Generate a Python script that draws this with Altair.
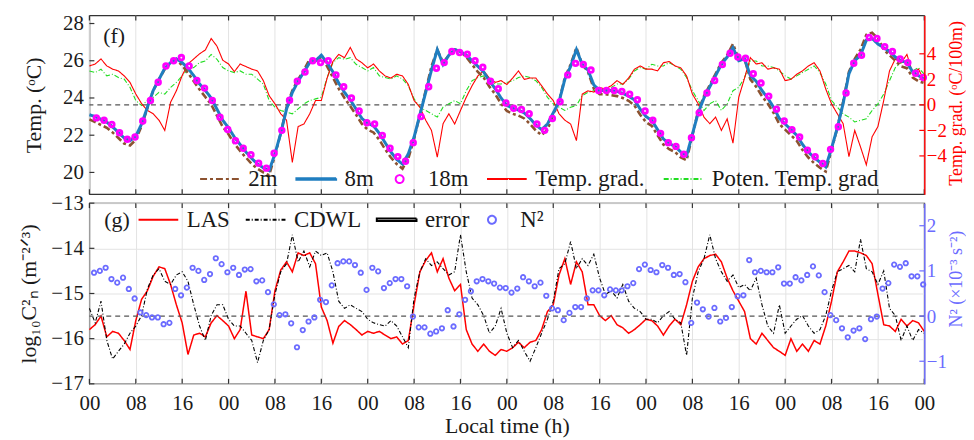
import altair as alt
import pandas as pd
import numpy as np

FONT = "Liberation Serif"

# ---------------- data ----------------
HOURS = list(range(0, 145))
TICKS = list(range(0, 145, 8))
TEMP_TICKS = [20, 22, 24, 26, 28]
GRAD_TICKS = [-4, -2, 0, 2, 4]
CN_TICKS = [-17, -16, -15, -14, -13]
N2_TICKS = [-1, 0, 1, 2]

T2M = [22.85, 22.7, 22.55, 22.4, 22.15, 21.85, 21.55, 21.45, 21.75, 22.5,
       23.45, 24.4, 25.0, 25.55, 25.85, 26.05, 25.75, 25.35, 24.9, 24.45,
       24.05, 23.65, 23.05, 22.45, 22.05, 21.55, 21.15, 20.8, 20.45, 20.2,
       20.0, 19.85, 20.9, 22.1, 23.5, 24.4, 25.0, 25.5, 26.1, 26.0,
       26.2, 25.7, 25.1, 24.5, 24.0, 23.55, 23.1, 22.6, 22.3, 22.15,
       21.75, 21.25, 20.8, 20.45, 20.2, 20.75, 21.8, 23.1, 24.4, 25.7,
       26.6, 25.9, 26.3, 26.6, 26.5, 26.2, 25.8, 25.4, 25.1, 24.6,
       24.2, 23.7, 23.3, 23.15, 23.05, 22.9, 22.6, 22.25, 22.0, 22.3,
       23.1, 23.8, 25.1, 25.8, 26.7, 25.8, 25.4, 24.5, 24.2, 24.2,
       24.15, 24.1, 24.0, 23.85, 23.6, 23.1, 22.7, 22.5, 22.0, 21.5,
       21.25, 21.1, 20.8, 20.65, 22.0, 23.3, 24.1, 24.7, 25.3, 25.9,
       26.3, 26.9, 26.1, 26.1, 25.0, 24.6, 24.1, 23.7, 23.2, 22.6,
       22.3, 22.0, 21.7, 21.2, 20.8, 20.5, 20.25, 20.05, 21.2, 22.4,
       23.8, 25.4, 26.1, 26.6, 27.4, 27.5, 27.2, 26.6, 26.3, 26.0,
       25.7, 25.6, 25.1, 24.9, 24.8]

T8M = [23.1, 23.0, 22.85, 22.7, 22.45, 22.15, 21.85, 21.7, 21.95, 22.6,
       23.5, 24.4, 25.0, 25.6, 25.9, 26.1, 25.9, 25.6, 25.2, 24.75,
       24.4, 24.0, 23.4, 22.8, 22.4, 21.9, 21.5, 21.1, 20.75, 20.45,
       20.25, 20.1, 21.0, 22.1, 23.4, 24.3, 24.9, 25.4, 25.9, 26.0,
       26.3, 25.9, 25.4, 24.8, 24.3, 23.9, 23.4, 22.9, 22.65, 22.5,
       22.1, 21.6, 21.1, 20.7, 20.45, 21.0, 21.9, 23.1, 24.3, 25.5,
       26.6, 25.8, 26.3, 26.6, 26.5, 26.3, 26.0, 25.7, 25.4, 24.9,
       24.5, 24.0, 23.6, 23.45, 23.35, 23.2, 22.9, 22.55, 22.3, 22.6,
       23.2, 23.8, 25.0, 25.7, 26.6, 25.8, 25.5, 24.7, 24.4, 24.4,
       24.4, 24.35, 24.25, 24.1, 23.9, 23.4, 23.0, 22.8, 22.3, 21.8,
       21.55, 21.4, 21.1, 20.9, 22.05, 23.2, 24.0, 24.6, 25.2, 25.8,
       26.2, 26.7, 26.0, 26.1, 25.2, 24.9, 24.4, 24.0, 23.5, 22.9,
       22.6, 22.3, 22.0, 21.5, 21.1, 20.8, 20.55, 20.3, 21.3, 22.4,
       23.7, 25.3, 26.0, 26.3, 27.1, 27.2, 26.9, 26.7, 26.5, 26.2,
       26.0, 25.9, 25.4, 25.2, 25.0]

T18M_TIME = [round(1.2 + 1.333 * k, 2) for k in range(108)]
T18M = [22.93, 22.8, 22.58, 22.13, 21.78, 21.9, 22.76, 23.86, 24.85, 25.72,
        26.0, 26.17, 25.72, 24.94, 24.53, 23.86, 22.97, 22.31, 21.7, 21.3,
        20.95, 20.5, 20.23, 21.03, 22.26, 23.88, 24.9, 25.4, 26.0, 25.9,
        26.0, 25.24, 24.6, 24.0, 23.3, 22.67, 22.6, 21.99, 21.3, 20.85,
        20.6, 21.6, 23.0, 24.6, 25.6, 25.9, 26.5, 26.44, 26.35, 26.0,
        25.65, 24.9, 24.5, 23.73, 23.45, 23.38, 23.15, 22.6, 22.26, 22.9,
        23.8, 25.24, 25.86, 25.8, 25.5, 24.4, 24.4, 24.4, 24.35, 24.2,
        23.9, 23.3, 22.8, 22.1, 21.6, 21.4, 20.98, 21.87, 23.2, 24.27,
        24.94, 25.8, 26.4, 26.2, 26.13, 25.3, 24.8, 24.1, 23.4, 22.76,
        22.3, 21.9, 21.2, 20.84, 20.48, 21.24, 22.45, 24.27, 25.87, 26.3,
        27.25, 27.2, 26.76, 26.5, 26.1, 25.9, 25.33, 25.1]

GRAD = [3.05, 3.2, 3.6, 3.05, 2.8, 2.66, 2.27, 1.76, 0.85, 0.1,
        -0.44, -0.7, -1.2, -2.0, 0.2, 1.1, 2.3, 3.2, 3.6, 4.0,
        4.3, 5.2, 4.6, 3.5, 3.2, 2.6, 3.2, 3.0, 2.8, 2.66,
        1.9, 0.72, 0.08, -0.7, -1.2, -4.5, -1.7, -1.5, -0.7, 0.34,
        0.34, 2.1, 3.4, 3.95, 3.7, 4.5, 3.6, 3.3, 2.9, 3.2,
        2.66, 2.27, 2.1, 2.4, 2.27, 1.6, 0.34, -0.18, -1.2, -2.0,
        -4.1, -1.47, -0.7, -1.5, -0.44, 0.6, 1.5, 2.27, 2.66, 2.1,
        1.76, 1.9, 1.6, 2.1, 2.66, 2.0, 2.1, 2.1, 1.5, 0.85,
        0.34, -0.7, -1.2, -1.5, -2.8, 0.85, 1.1, 1.0, 1.37, 1.24,
        1.5, 1.9, 1.6, 2.1, 2.8, 3.05, 2.8, 2.8, 2.66, 3.3,
        3.4, 3.05, 2.9, 2.27, 0.85, 0.08, -0.96, -1.47, -0.96, -2.0,
        -1.1, -3.0, 0.6, 2.1, 3.7, 3.2, 3.3, 2.8, 2.9, 2.8,
        1.9, 2.0, 2.4, 2.66, 3.05, 3.3, 2.66, 1.24, 0.08, -0.7,
        -1.47, -4.06, -2.0, -3.3, -4.7, -2.5, -1.7, 0.34, 2.66, 3.6,
        3.3, 3.95, 2.5, 2.8, 1.9]

PGRAD = [2.66, 2.53, 2.79, 2.27, 2.4, 2.14, 2.02, 1.37, 0.34, -0.05,
         0.34, 0.59, 0.98, 0.85, 1.37, 1.76, 2.27, 2.79, 2.92, 3.31,
         3.44, 3.95, 3.57, 2.92, 2.66, 2.53, 2.66, 2.4, 2.4, 2.02,
         1.63, 0.34, -0.18, -0.44, -0.57, -0.7, -0.31, 0.08, 0.34, 0.47,
         0.59, 2.14, 3.31, 3.7, 3.57, 3.7, 3.18, 2.92, 2.66, 2.92,
         2.27, 2.14, 2.02, 2.27, 2.02, 1.5, 0.47, -0.18, -0.44, -0.7,
         -0.96, -0.18, 0.08, 0.34, 0.08, 1.11, 1.89, 2.14, 2.27, 2.02,
         1.63, 1.63, 1.76, 1.89, 2.14, 2.27, 2.14, 1.89, 1.37, 0.59,
         0.08, -0.18, -0.44, -0.18, -0.05, 0.72, 0.98, 1.11, 1.24, 1.11,
         1.37, 1.63, 1.63, 2.02, 2.66, 2.92, 2.79, 3.18, 3.05, 3.05,
         3.31, 3.05, 2.79, 2.14, 1.11, 0.34, -0.44, 0.08, 0.34, -0.44,
         0.08, 1.11, 1.37, 2.14, 3.44, 3.44, 3.05, 3.05, 2.92, 2.66,
         2.27, 2.02, 2.27, 2.53, 2.79, 3.05, 2.53, 1.63, 0.34, -0.18,
         -0.7, -0.96, -1.34, -1.21, -1.09, -0.44, 0.08, 0.85, 1.89, 2.92,
         3.31, 3.44, 2.66, 2.92, 2.4]

LAS = [-15.8, -15.69, -15.5, -15.96, -15.84, -15.88, -16.04, -16.24, -15.6, -15.13,
       -14.94, -14.62, -14.41, -14.45, -14.8, -15.25, -15.65, -16.35, -15.92, -15.88,
       -15.96, -15.65, -15.49, -15.6, -15.72, -16.0, -15.8, -14.95, -15.92, -15.96,
       -16.0, -15.8, -14.94, -14.48, -14.3, -14.52, -14.1, -14.16, -14.1, -14.34,
       -15.3, -15.6, -16.1, -15.73, -15.6, -15.69, -15.8, -15.92, -15.84, -15.88,
       -15.84, -15.92, -16.0, -15.96, -16.12, -16.04, -15.25, -14.52, -14.27, -14.1,
       -14.52, -14.23, -14.66, -14.94, -14.8, -15.8, -16.12, -16.28, -16.12, -16.28,
       -16.37, -16.24, -16.28, -16.2, -16.08, -16.2, -16.08, -16.04, -15.8, -15.4,
       -15.25, -14.59, -14.23, -14.8, -14.3, -14.52, -15.25, -15.25, -15.49, -15.6,
       -15.49, -15.69, -15.76, -15.88, -15.8, -15.69, -15.57, -15.6, -15.72, -15.92,
       -15.72, -15.57, -15.69, -15.25, -14.73, -14.41, -14.23, -14.16, -14.13, -14.3,
       -14.66, -14.94, -15.17, -15.4, -16.0, -16.12, -15.88, -16.04, -16.2, -16.28,
       -16.37, -16.0, -16.28, -16.12, -16.28, -16.04, -16.12, -15.72, -15.17, -14.52,
       -14.3, -14.06, -14.06, -14.1, -14.16, -14.34, -15.02, -15.69, -15.72, -15.84,
       -15.57, -15.72, -15.6, -15.65, -15.84]

CDWL = [-15.33, -15.65, -15.17, -16.04, -16.45, -16.28, -16.12, -15.88, -15.72, -15.49,
        -14.9, -14.59, -14.45, -14.73, -14.8, -14.59, -14.52, -14.73, -15.25, -15.72,
        -16.04, -15.49, -15.25, -15.25, -15.57, -15.72, -15.72, -15.88, -16.04, -16.53,
        -16.04, -15.8, -15.02, -14.52, -14.34, -13.7, -14.3, -14.06, -14.41, -14.06,
        -14.16, -14.1, -14.52, -15.17, -15.33, -15.25, -15.33, -15.4, -15.57, -15.65,
        -15.69, -15.72, -15.6, -15.72, -15.96, -16.2, -15.1, -14.52, -14.23, -14.38,
        -14.3, -14.45, -14.59, -14.52, -13.7, -14.52, -15.1, -15.25, -15.49, -15.88,
        -15.72, -15.33, -15.88, -16.2, -16.04, -16.28, -16.5, -16.2, -15.88, -15.57,
        -15.17, -14.45, -14.34, -13.85, -14.45, -14.23, -14.38, -14.13, -14.66, -15.02,
        -14.94, -15.1, -14.8, -15.17, -15.33, -15.4, -15.57, -15.57, -15.65, -15.49,
        -15.4, -15.57, -15.65, -16.37, -15.1, -14.52, -14.23, -13.7, -14.23, -14.52,
        -14.73, -14.59, -14.87, -14.8, -14.94, -14.66, -15.25, -15.72, -15.88, -15.25,
        -15.88, -15.72, -15.57, -15.49, -15.72, -15.88, -15.8, -15.49, -14.94, -14.52,
        -14.45, -14.38, -14.52, -13.8, -14.45, -14.52, -14.8, -14.5, -15.33, -15.49,
        -16.04, -15.72, -16.04, -15.8, -15.88]

N2_TIME = [round(0.8 + k, 1) for k in range(144)]
N2 = [0.96, 1.0, 1.07, 0.82, 0.74, 0.85, 0.6, 0.39, 0.08, 0.02,
      -0.03, -0.03, -0.18, -0.15, 0.6, 0.46, 0.63, 1.07, 1.0, 0.8,
      0.93, 1.28, 1.15, 0.97, 1.07, 0.91, 1.03, 1.04, 0.77, 0.79,
      0.53, 0.26, 0.02, 0.04, -0.16, -0.69, -0.31, -0.12, -0.03, 0.36,
      0.31, 0.68, 1.17, 1.21, 1.21, 1.13, 0.96, 0.58, 1.07, 0.99,
      0.62, 0.73, 0.82, 0.82, 0.66, -0.01, -0.25, -0.25, -0.39, -0.34,
      -0.27, 0.13, -0.23, 0.04, 0.36, 0.55, 0.77, 0.82, 0.77, 0.72,
      0.63, 0.62, 0.52, 0.61, 0.86, 0.77, 0.66, 0.74, 0.45, 0.17,
      0.13, -0.09, 0.07, 0.2, 0.2, 0.39, 0.57, 0.57, 0.46, 0.59,
      0.57, 0.57, 0.66, 0.73, 1.04, 1.14, 1.02, 0.97, 1.13, 1.07,
      0.91, 0.93, 0.75, -0.15, 0.3, 0.15, -0.01, 0.18, -0.12, -0.04,
      0.2, 0.44, 0.46, 1.24, 0.97, 1.0, 0.97, 0.97, 1.08, 0.72,
      0.72, 0.86, 0.79, 0.91, 1.1, 0.9, 0.53, 0.02, -0.09, -0.27,
      -0.47, -0.32, -0.27, -0.51, -0.07, -0.01, 0.61, 0.73, 1.14, 1.09,
      1.17, 0.88, 0.88, 0.7]

for arr in (T2M, T8M, GRAD, PGRAD, LAS, CDWL):
    assert len(arr) == 145, len(arr)
assert len(T18M) == 108 and len(N2) == 144

TOP_SERIES = ["2m", "8m", "18m", "Temp. grad.", "Poten. Temp. grad"]
TOP_COLORS = ["#8c5230", "#1f7ec0", "#ff00ff", "#ff0000", "#22dd22"]
BOT_SERIES = ["LAS", "CDWL", "error", "N²"]
BOT_COLORS = ["#ff0000", "#000000", "#000000", "#6b6bff"]

# ---------------- frames ----------------
temp_df = pd.DataFrame({"hour": HOURS * 2, "temp": T2M + T8M,
                        "series": ["2m"] * 145 + ["8m"] * 145})
t18_df = pd.DataFrame({"hour": T18M_TIME, "temp": T18M, "series": "18m"})
grad_df = pd.DataFrame({"hour": HOURS * 2, "grad": PGRAD + GRAD,
                        "series": ["Poten. Temp. grad"] * 145 + ["Temp. grad."] * 145})
cn_df = pd.DataFrame({"hour": HOURS * 2, "cn": LAS + CDWL,
                      "series": ["LAS"] * 145 + ["CDWL"] * 145})
n2_df = pd.DataFrame({"hour": N2_TIME, "n2": N2, "series": "N²"})
tick_df = pd.DataFrame({"t": TICKS})

W, H1, H2 = 841, 180, 182
TK = 5  # inward tick length
LINE = "M-5,0H5"
THICK8 = "M-5,-0.2H5V0.2H-5Z"
THICKERR = "M-5,-0.3H5V0.3H-5Z"
AXC = "#333333"
GRIDC = "#e3e3e3"

x_scale = alt.Scale(domain=[0, 144], nice=False, zero=False)
label_expr = "datum.value % 24 == 0 ? '00' : (datum.value % 24 == 8 ? '08' : '16')"

leg_common = dict(title=None, orient="none", direction="horizontal", symbolSize=64,
                  symbolStrokeWidth=2, labelFont=FONT, labelFontSize=23,
                  labelColor="#1a1a1a", labelOffset=17, padding=0, labelLimit=300)
top_legend = alt.Legend(legendX=120, legendY=153, columns=5, columnPadding=14, **leg_common)
bot_legend = alt.Legend(legendX=58, legendY=5, columns=4, columnPadding=11, **leg_common)

top_color = alt.Color("series:N", scale=alt.Scale(domain=TOP_SERIES, range=TOP_COLORS), legend=top_legend)
top_dash = alt.StrokeDash("series:N", scale=alt.Scale(domain=TOP_SERIES,
                          range=[[7, 3, 3, 3], [1, 0], [1, 0], [1, 0], [5, 2, 1, 2]]), legend=top_legend)
top_shape = alt.Shape("series:N", scale=alt.Scale(domain=TOP_SERIES,
                      range=[LINE, THICK8, "circle", LINE, LINE]), legend=top_legend)

bot_color = alt.Color("series:N", scale=alt.Scale(domain=BOT_SERIES, range=BOT_COLORS), legend=bot_legend)
bot_dash = alt.StrokeDash("series:N", scale=alt.Scale(domain=BOT_SERIES,
                          range=[[1, 0], [4, 2, 1, 2], [1, 0], [1, 0]]), legend=bot_legend)
bot_shape = alt.Shape("series:N", scale=alt.Scale(domain=BOT_SERIES,
                      range=[LINE, LINE, THICKERR, "circle"]), legend=bot_legend)

# ---------------- axes ----------------
x_bot_axis = alt.Axis(values=TICKS, labelExpr=label_expr, ticks=False, domain=False,
                      grid=True, gridColor=GRIDC, title="Local time (h)",
                      labelFlush=False, labelPadding=9, titlePadding=2)
temp_axis = alt.Axis(orient="left", values=TEMP_TICKS, title="Temp. (ᵒC)",
                     ticks=False, domain=False, grid=False, labelPadding=6, titlePadding=17)
grad_axis = alt.Axis(orient="right", values=GRAD_TICKS, title="Temp. grad. (ᵒC/100m)",
                     titleAngle=270, titleBaseline="top", titleColor="#ff0000",
                     titleFontSize=18, titleY=88, labelFontSize=19,
                     labelColor="#ff0000", domainColor="#ff0000", domainWidth=1.4,
                     ticks=False, grid=False, labelPadding=2, titlePadding=1, zindex=1)
cn_axis = alt.Axis(orient="left", values=CN_TICKS,
                   title="log₁₀C²ₙ (m⁻²ᐟ³)", ticks=False, domain=False,
                   grid=True, gridColor=GRIDC, labelPadding=6, titlePadding=10)
n2_axis = alt.Axis(orient="right", values=N2_TICKS, title="N² (×10⁻³ s⁻²)",
                   titleAngle=270, titleBaseline="top", titleColor="#6b6bff",
                   titleFontSize=18, titleY=76, labelFontSize=19,
                   labelColor="#6b6bff", domainColor="#6b6bff", domainWidth=1.4,
                   ticks=False, grid=False, labelPadding=2, titlePadding=1, zindex=1)


def xticks(h):
    """vertical grid + inward x ticks (top and bottom edges) for a panel of height h"""
    grid = alt.Chart(tick_df).mark_rule(color=GRIDC, strokeWidth=1).encode(
        x=alt.X("t:Q", scale=x_scale, axis=None), y=alt.value(0), y2=alt.value(h))
    t1 = alt.Chart(tick_df).mark_rule(color=AXC, strokeWidth=1.2).encode(
        x=alt.X("t:Q", scale=x_scale, axis=None), y=alt.value(0), y2=alt.value(TK))
    t2 = alt.Chart(tick_df).mark_rule(color=AXC, strokeWidth=1.2).encode(
        x=alt.X("t:Q", scale=x_scale, axis=None), y=alt.value(h - TK), y2=alt.value(h))
    return grid, t1, t2


def yticks(field, values, scale, axis, side, color):
    df = pd.DataFrame({field: values})
    if side == "left":
        xv, x2v = 0, TK
    else:
        xv, x2v = W - TK, W
    return alt.Chart(df).mark_rule(color=color, strokeWidth=1.2).encode(
        y=alt.Y(f"{field}:Q", scale=scale, axis=axis), x=alt.value(xv), x2=alt.value(x2v))


# ---------------- top panel ----------------
temp_y = alt.Scale(domain=[18.83, 28.43], nice=False, zero=False)
grad_y = alt.Scale(domain=[-7, 7], nice=False, zero=False)
xt = alt.X("hour:Q", scale=x_scale, axis=None)

grid_t, tk_t1, tk_t2 = xticks(H1)

zero_top = alt.Chart(pd.DataFrame({"grad": [0]})).mark_rule(
    color="#555555", strokeDash=[5, 4], strokeWidth=1.3).encode(
    y=alt.Y("grad:Q", scale=grad_y, axis=grad_axis))
grad_lines = alt.Chart(grad_df).mark_line(strokeWidth=1.1).encode(
    x=xt, y=alt.Y("grad:Q", scale=grad_y, axis=grad_axis),
    color=top_color, strokeDash=top_dash)
grad_tk = yticks("grad", GRAD_TICKS, grad_y, grad_axis, "right", "#ff0000")
grad_layer = alt.layer(zero_top, grad_lines, grad_tk)

l2m = alt.Chart(temp_df).transform_filter(alt.datum.series == "2m").mark_line(strokeWidth=2.6).encode(
    x=xt, y=alt.Y("temp:Q", scale=temp_y, axis=temp_axis),
    color=top_color, strokeDash=top_dash)
l8m = alt.Chart(temp_df).transform_filter(alt.datum.series == "8m").mark_line(strokeWidth=3).encode(
    x=xt, y=alt.Y("temp:Q", scale=temp_y, axis=temp_axis),
    color=top_color, strokeDash=top_dash)
p18 = alt.Chart(t18_df).mark_point(filled=False, size=22, strokeWidth=2.8, opacity=1).encode(
    x=xt, y=alt.Y("temp:Q", scale=temp_y, axis=temp_axis),
    color=top_color, shape=top_shape)
temp_tk = yticks("temp", TEMP_TICKS, temp_y, temp_axis, "left", AXC)
temp_layer = alt.layer(l2m, l8m, p18, temp_tk)

lab_f = alt.Chart(pd.DataFrame({"lab": ["(f)"]})).mark_text(
    font=FONT, fontSize=22, align="left", baseline="middle", color="#1a1a1a").encode(
    x=alt.value(14), y=alt.value(21), text="lab:N")

top = alt.layer(grid_t, grad_layer, temp_layer, tk_t1, tk_t2, lab_f).resolve_scale(
    y="independent").properties(width=W, height=H1)

# ---------------- bottom panel ----------------
cn_y = alt.Scale(domain=[-17, -13], nice=False, zero=False)
n2_y = alt.Scale(domain=[-1.5, 2.5], nice=False, zero=False)
xb = alt.X("hour:Q", scale=x_scale, axis=x_bot_axis)

las_line = alt.Chart(cn_df).transform_filter(alt.datum.series == "LAS").mark_line(strokeWidth=1.5).encode(
    x=xb, y=alt.Y("cn:Q", scale=cn_y, axis=cn_axis),
    color=bot_color, strokeDash=bot_dash)
cdwl_line = alt.Chart(cn_df).transform_filter(alt.datum.series == "CDWL").mark_line(strokeWidth=1.1).encode(
    x=xb, y=alt.Y("cn:Q", scale=cn_y, axis=cn_axis),
    color=bot_color, strokeDash=bot_dash)
cn_tk = yticks("cn", CN_TICKS, cn_y, cn_axis, "left", AXC)
cn_layer = alt.layer(las_line, cdwl_line, cn_tk)

zero_bot = alt.Chart(pd.DataFrame({"n2": [0]})).mark_rule(
    color="#555555", strokeDash=[5, 4], strokeWidth=1.3).encode(
    y=alt.Y("n2:Q", scale=n2_y, axis=n2_axis))
n2_pts = alt.Chart(n2_df).mark_point(filled=False, size=20, strokeWidth=1.8, opacity=1).encode(
    x=xb, y=alt.Y("n2:Q", scale=n2_y, axis=n2_axis),
    color=bot_color, shape=bot_shape)
n2_tk = yticks("n2", N2_TICKS, n2_y, n2_axis, "right", "#6b6bff")
n2_layer = alt.layer(zero_bot, n2_pts, n2_tk)

tk_b1 = alt.Chart(tick_df).mark_rule(color=AXC, strokeWidth=1.2).encode(
    x=alt.X("t:Q", scale=x_scale, axis=x_bot_axis), y=alt.value(0), y2=alt.value(TK))
tk_b2 = alt.Chart(tick_df).mark_rule(color=AXC, strokeWidth=1.2).encode(
    x=alt.X("t:Q", scale=x_scale, axis=x_bot_axis), y=alt.value(H2 - TK), y2=alt.value(H2))
lab_g = alt.Chart(pd.DataFrame({"lab": ["(g)"]})).mark_text(
    font=FONT, fontSize=22, align="left", baseline="middle", color="#1a1a1a").encode(
    x=alt.value(15), y=alt.value(17), text="lab:N")

bottom = alt.layer(cn_layer, n2_layer, tk_b1, tk_b2, lab_g).resolve_scale(
    y="independent").properties(width=W, height=H2)

chart = alt.vconcat(top, bottom, spacing=9, bounds="flush").resolve_scale(
    color="independent", strokeDash="independent", shape="independent", x="independent"
).properties(
    padding={"left": 9, "top": 2, "right": 0, "bottom": 0}
).configure_view(stroke=AXC, strokeWidth=1.3).configure_axis(
    labelFont=FONT, titleFont=FONT, labelFontSize=21, titleFontSize=22,
    titleFontWeight="normal", labelColor="#1a1a1a", titleColor="#1a1a1a"
).configure_legend(symbolFillColor="transparent")

chart.save("out.html", embed_options={"renderer": "svg", "actions": False})
